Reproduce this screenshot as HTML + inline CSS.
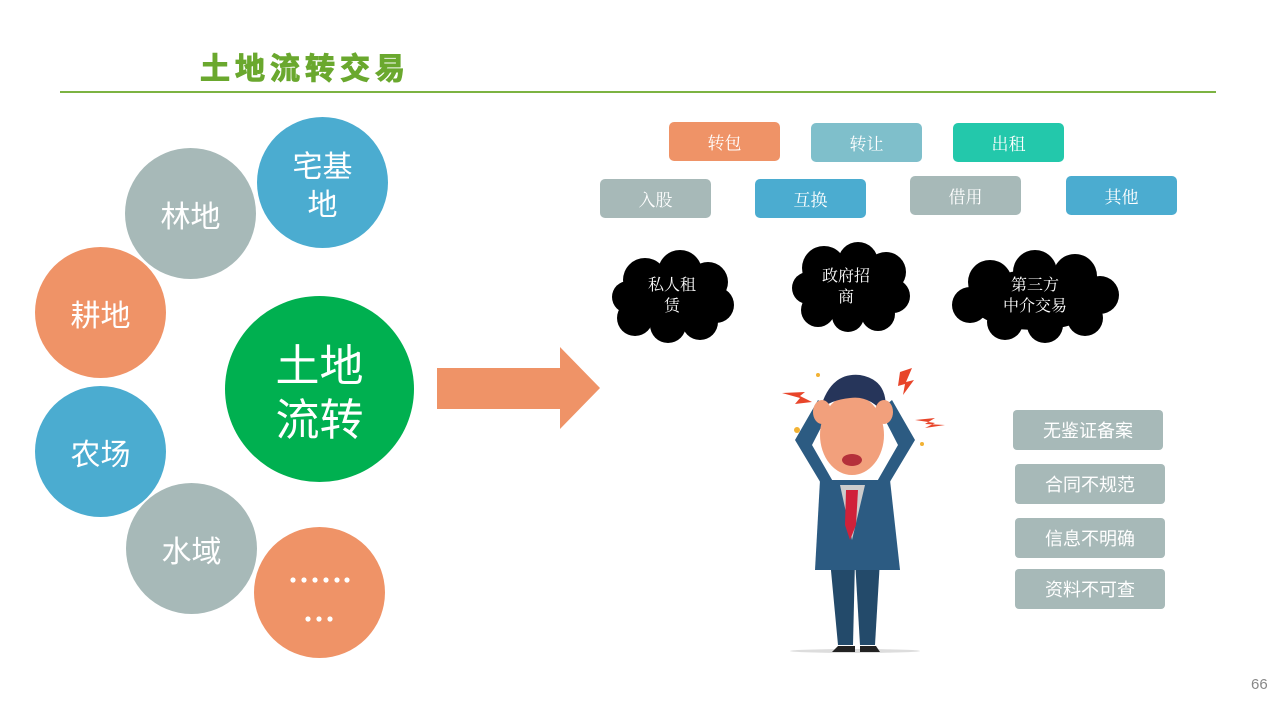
<!DOCTYPE html>
<html><head><meta charset="utf-8"><style>
html,body{margin:0;padding:0;background:#fff;}
body{width:1280px;height:719px;overflow:hidden;position:relative;font-family:"Liberation Sans","Noto Sans CJK SC",sans-serif;}
.t{position:absolute;left:200px;top:44px;font-size:30px;font-weight:bold;color:#6aa82e;letter-spacing:5px;font-family:"Noto Sans CJK SC",sans-serif;-webkit-text-stroke:1px #6aa82e;}
.line{position:absolute;left:60px;top:91px;width:1156px;height:2px;background:#7cb342;}
.c{position:absolute;border-radius:50%;color:#fff;display:flex;align-items:center;justify-content:center;text-align:center;font-size:30px;line-height:38px;font-family:"Noto Sans CJK SC",sans-serif;}
.g{background:#a7b9b8}.b{background:#4bacd0}.o{background:#ef9367}
.btn{position:absolute;width:111px;height:39px;border-radius:5px;color:#fff;font-size:17px;display:flex;align-items:center;justify-content:center;font-family:"Liberation Serif","Noto Serif CJK SC",serif;}
.lb{position:absolute;width:150px;height:40px;border-radius:4px;background:#a7b9b8;color:#fff;font-size:18px;display:flex;align-items:center;justify-content:center;font-family:"Liberation Sans","Noto Sans CJK SC",sans-serif;}
.ct{position:absolute;color:#fff;font-size:16px;line-height:21px;text-align:center;font-family:"Liberation Serif","Noto Serif CJK SC",serif;}
</style></head><body>
<div class="t">土地流转交易</div>
<div class="line"></div>

<div class="c g" style="left:125px;top:148px;width:131px;height:131px;">林地</div>
<div class="c b" style="left:257px;top:117px;width:131px;height:131px;">宅基<br>地</div>
<div class="c o" style="left:35px;top:247px;width:131px;height:131px;">耕地</div>
<div class="c" style="left:225px;top:296px;width:189px;height:186px;background:#00b050;font-size:44px;line-height:54px;">土地<br>流转</div>
<div class="c b" style="left:35px;top:386px;width:131px;height:131px;">农场</div>
<div class="c g" style="left:126px;top:483px;width:131px;height:131px;">水域</div>
<div class="c o" style="left:254px;top:527px;width:131px;height:131px;"></div>

<svg style="position:absolute;left:0;top:0" width="1280" height="719">
<g fill="#fff">
<circle cx="293" cy="580" r="2.6"/><circle cx="304" cy="580" r="2.6"/><circle cx="315" cy="580" r="2.6"/><circle cx="326" cy="580" r="2.6"/><circle cx="337" cy="580" r="2.6"/><circle cx="347" cy="580" r="2.6"/>
<circle cx="308" cy="619" r="2.6"/><circle cx="319" cy="619" r="2.6"/><circle cx="330" cy="619" r="2.6"/>
</g>
<polygon points="437,368 560,368 560,347 600,388 560,429 560,409 437,409" fill="#ef9367"/>
<g fill="#000">
<circle cx="645" cy="280" r="22"/><circle cx="680" cy="272" r="22"/><circle cx="708" cy="282" r="20"/><circle cx="716" cy="305" r="18"/><circle cx="700" cy="322" r="18"/><circle cx="668" cy="325" r="18"/><circle cx="635" cy="318" r="18"/><circle cx="628" cy="297" r="16"/><ellipse cx="672" cy="298" rx="45" ry="30"/>
<circle cx="824" cy="268" r="22"/><circle cx="858" cy="262" r="20"/><circle cx="886" cy="272" r="20"/><circle cx="893" cy="296" r="17"/><circle cx="878" cy="314" r="17"/><circle cx="848" cy="316" r="16"/><circle cx="818" cy="310" r="17"/><circle cx="808" cy="288" r="16"/><ellipse cx="850" cy="290" rx="45" ry="28"/>
<circle cx="990" cy="282" r="22"/><circle cx="1035" cy="272" r="22"/><circle cx="1075" cy="276" r="22"/><circle cx="1100" cy="295" r="19"/><circle cx="1085" cy="318" r="18"/><circle cx="1045" cy="325" r="18"/><circle cx="1005" cy="322" r="18"/><circle cx="970" cy="305" r="18"/><ellipse cx="1035" cy="300" rx="65" ry="30"/>
</g>
<g>
<ellipse cx="855" cy="651" rx="65" ry="2" fill="#ddd"/>
<polygon points="830,560 855,560 853,645 838,645" fill="#234a6a"/>
<polygon points="855,560 880,560 875,645 860,645" fill="#234a6a"/>
<polygon points="820,480 890,480 900,570 815,570" fill="#2c5b82"/>
<polygon points="840,485 865,485 852,540" fill="#ccc"/>
<polygon points="846,490 858,490 856,525 850,540 845,525" fill="#d0213a"/>
<polygon points="822,485 795,440 818,400 830,410 812,445 835,485" fill="#2c5b82"/>
<polygon points="888,485 915,440 892,400 880,410 898,445 875,485" fill="#2c5b82"/>
<ellipse cx="852" cy="435" rx="32" ry="40" fill="#f2a07c"/>
<path d="M820 410 Q830 372 860 375 Q890 380 885 415 Q870 395 850 398 Q830 400 820 410Z" fill="#26355a"/>
<ellipse cx="852" cy="460" rx="10" ry="6" fill="#b5303a"/>
<ellipse cx="822" cy="412" rx="9" ry="12" fill="#f2a07c"/>
<ellipse cx="884" cy="412" rx="9" ry="12" fill="#f2a07c"/>
<polygon points="838,646 855,646 855,652 832,652" fill="#222"/>
<polygon points="860,646 876,646 880,652 860,652" fill="#222"/>
<polygon points="782,393 800,398 795,404 812,402 800,396 805,392" fill="#e8452a"/>
<polygon points="900,372 912,368 906,382 914,380 903,395 905,384 898,386" fill="#e8452a"/>
<polygon points="915,420 935,418 925,424 945,425 925,428 935,423" fill="#e8452a"/>
<circle cx="818" cy="375" r="2" fill="#f2b233"/><circle cx="922" cy="444" r="2" fill="#f2b233"/><circle cx="797" cy="430" r="3" fill="#f2b233"/>
</g>
</svg>

<div class="ct" style="left:632px;top:275px;width:80px;">私人租<br>赁</div>
<div class="ct" style="left:806px;top:266px;width:80px;">政府招<br>商</div>
<div class="ct" style="left:985px;top:275px;width:100px;">第三方<br>中介交易</div>

<div class="btn" style="left:669px;top:122px;background:#ef9367;">转包</div>
<div class="btn" style="left:811px;top:123px;background:#7fbfcb;">转让</div>
<div class="btn" style="left:953px;top:123px;background:#23c8ab;">出租</div>
<div class="btn" style="left:600px;top:179px;background:#a7b9b8;">入股</div>
<div class="btn" style="left:755px;top:179px;background:#4bacd0;">互换</div>
<div class="btn" style="left:910px;top:176px;background:#a7b9b8;">借用</div>
<div class="btn" style="left:1066px;top:176px;background:#4bacd0;">其他</div>

<div class="lb" style="left:1013px;top:410px;">无鉴证备案</div>
<div class="lb" style="left:1015px;top:464px;">合同不规范</div>
<div class="lb" style="left:1015px;top:518px;">信息不明确</div>
<div class="lb" style="left:1015px;top:569px;">资料不可查</div>

<div style="position:absolute;left:1251px;top:676px;font-size:15px;color:#888;">66</div>
</body></html>
